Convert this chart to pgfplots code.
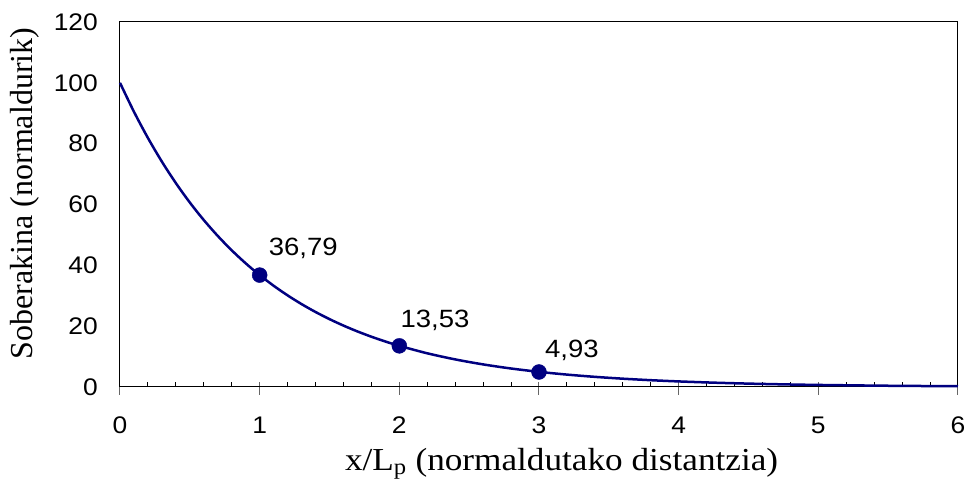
\documentclass[border=0pt]{standalone}
\usepackage{fontspec}
\setmainfont{Liberation Serif}
\newfontfamily\arial[FakeStretch=1.1]{Liberation Sans}
\newfontfamily\timesx[FakeStretch=1.1]{Liberation Serif}
\usepackage{pgfplots}
\pgfplotsset{compat=1.18}
\definecolor{navyline}{RGB}{0,0,128}
\begin{document}
\begin{tikzpicture}
\useasboundingbox (0,0) rectangle (967pt,494pt);
\begin{axis}[
  at={(120pt,107pt)}, anchor=south west,
  scale only axis, width=838pt, height=365pt,
  xmin=0, xmax=6, ymin=0, ymax=120,
  xtick={0,1,2,3,4,5,6},
  ytick={0,20,40,60,80,100,120},
  minor x tick num=4,
  xtick pos=bottom, ytick pos=left,
  tick align=inside,
  major tick length=13pt, minor tick length=5pt,
  major x tick style={yshift=-8pt, black!60, line width=1pt},
  minor x tick style={black, line width=1pt},
  ytick style={draw=none},
  axis line style={black, line width=1pt},
  /pgf/number format/assume math mode=true,
  tick label style={font=\fontsize{24}{24}\selectfont\arial, inner sep=0pt},
  xticklabel style={anchor=north, yshift=-30pt},
  yticklabel style={anchor=east, xshift=-22pt},
  xlabel={x/L\textsubscript{p} (normaldutako distantzia)},
  ylabel={Soberakina (normaldurik)},
  every axis x label/.style={at={(axis description cs:0.527,-0.230)}, anchor=base, font=\fontsize{32}{32}\selectfont\timesx},
  every axis y label/.style={at={(axis description cs:-0.1134,0.530)}, anchor=center, rotate=90, font=\fontsize{32}{32}\selectfont},
  clip=false,
]
\addplot[navyline, line width=2.5pt, smooth] coordinates {
(0,100) (0.1,90.484) (0.2,81.873) (0.3,74.082) (0.4,67.032) (0.5,60.653)
(0.6,54.881) (0.7,49.659) (0.8,44.933) (0.9,40.657) (1.0,36.788)
(1.1,33.287) (1.2,30.119) (1.3,27.253) (1.4,24.660) (1.5,22.313)
(1.6,20.190) (1.7,18.268) (1.8,16.530) (1.9,14.957) (2.0,13.534)
(2.2,11.080) (2.4,9.072) (2.6,7.427) (2.8,6.081) (3.0,4.979)
(3.2,4.076) (3.4,3.337) (3.6,2.732) (3.8,2.237) (4.0,1.832)
(4.25,1.426) (4.5,1.111) (4.75,0.865) (5.0,0.674) (5.5,0.409) (6.0,0.248)
};
\addplot[only marks, mark=*, mark size=7.5pt, navyline, mark options={fill=navyline, draw=navyline}] coordinates {
(1,36.79) (2,13.53) (3,4.93)
};
\addplot[draw=none, mark=none, nodes near coords, point meta=explicit symbolic,
  nodes near coords style={anchor=base west, xshift=9pt, yshift=20pt, inner sep=0pt, font=\fontsize{25}{25}\selectfont\arial, text=black}]
  table[meta=label] {
x y label
1 36.79 36,79
};
\addplot[draw=none, mark=none, nodes near coords, point meta=explicit symbolic,
  nodes near coords style={anchor=base west, xshift=1pt, yshift=18pt, inner sep=0pt, font=\fontsize{25}{25}\selectfont\arial, text=black}]
  table[meta=label] {
x y label
2 13.53 13,53
};
\addplot[draw=none, mark=none, nodes near coords, point meta=explicit symbolic,
  nodes near coords style={anchor=base west, xshift=6pt, yshift=14pt, inner sep=0pt, font=\fontsize{25}{25}\selectfont\arial, text=black}]
  table[meta=label] {
x y label
3 4.93 4,93
};
\end{axis}
\end{tikzpicture}
\end{document}
